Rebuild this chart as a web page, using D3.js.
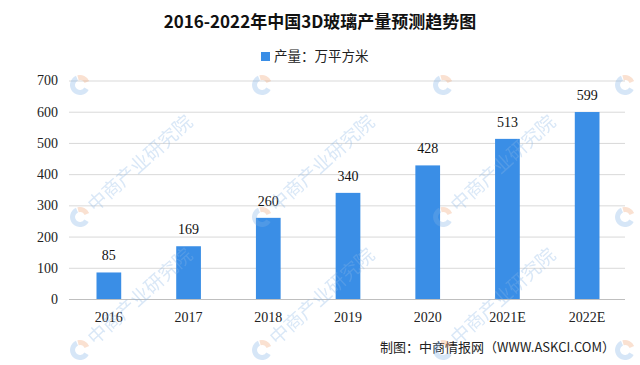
<!DOCTYPE html>
<html>
<head>
<meta charset="utf-8">
<script src="https://cdn.jsdelivr.net/npm/d3@7"></script>
<style>
  body { margin: 0; background: #fff; }
  svg { display: block; }
</style>
</head>
<body>
<script>
// chart data
const years = ['2016', '2017', '2018', '2019', '2020', '2021E', '2022E'];
const output = [85, 169, 260, 340, 428, 513, 599];
const yTicks = [0, 100, 200, 300, 400, 500, 600, 700];
const title = '2016-2022年中国3D玻璃产量预测趋势图';
const legendLabel = '产量：万平方米';
const sourceNote = '制图：中商情报网（WWW.ASKCI.COM）';
const watermark = '中商产业研究院';

const W = 640, H = 365;
const serif = '"Liberation Serif", "Noto Sans CJK SC", serif';
const cjk = '"Noto Sans CJK SC", sans-serif';

const svg = d3.select('body').append('svg')
  .attr('width', W)
  .attr('height', H);

svg.append('rect').attr('width', W).attr('height', H).attr('fill', '#fff');

// scales
const x = d3.scaleBand().domain(years).range([69, 627])
  .paddingInner(0.69).paddingOuter(0.345);
const y = d3.scaleLinear().domain([0, 700]).range([299, 80.5]);

// gridlines
svg.append('g')
  .selectAll('line')
  .data(yTicks)
  .join('line')
  .attr('x1', 69).attr('x2', 625)
  .attr('y1', d => y(d) + 0.5).attr('y2', d => y(d) + 0.5)
  .attr('stroke', d => d === 0 ? '#bfbfbf' : '#d9d9d9')
  .attr('stroke-width', 1);

// y axis labels
const yAxis = d3.axisLeft(y).tickValues(yTicks).tickSize(0).tickPadding(11);
svg.append('g')
  .attr('transform', 'translate(69,0)')
  .call(yAxis)
  .call(g => g.select('.domain').remove())
  .selectAll('text')
  .attr('font-family', serif)
  .attr('font-size', 14)
  .attr('fill', '#222');

// x axis labels
const xAxis = d3.axisBottom(x).tickSize(0).tickPadding(13);
svg.append('g')
  .attr('transform', 'translate(0,299)')
  .call(xAxis)
  .call(g => g.select('.domain').remove())
  .selectAll('text')
  .attr('font-family', serif)
  .attr('font-size', 14)
  .attr('fill', '#222');

// bars
svg.append('g')
  .selectAll('rect')
  .data(output)
  .join('rect')
  .attr('x', (d, i) => x(years[i]))
  .attr('y', d => y(d))
  .attr('width', x.bandwidth())
  .attr('height', d => y(0) - y(d))
  .attr('fill', '#3a8ee6');

// value labels
svg.append('g')
  .selectAll('text')
  .data(output)
  .join('text')
  .attr('x', (d, i) => x(years[i]) + x.bandwidth() / 2)
  .attr('y', d => y(d) - 12)
  .attr('text-anchor', 'middle')
  .attr('font-family', serif)
  .attr('font-size', 14)
  .attr('fill', '#111')
  .text(d => d);

// title
svg.append('text')
  .attr('x', 320).attr('y', 28)
  .attr('text-anchor', 'middle')
  .attr('font-family', cjk)
  .attr('font-weight', 'bold')
  .attr('font-size', 17)
  .attr('fill', '#111')
  .text(title);

// legend
svg.append('rect')
  .attr('x', 261).attr('y', 52)
  .attr('width', 9).attr('height', 9)
  .attr('fill', '#3a8ee6');
svg.append('text')
  .attr('x', 274).attr('y', 61)
  .attr('font-family', cjk)
  .attr('font-size', 13.5)
  .attr('fill', '#222')
  .text(legendLabel);

// source note
svg.append('text')
  .attr('x', 615).attr('y', 352)
  .attr('text-anchor', 'end')
  .attr('font-family', cjk)
  .attr('font-size', 13)
  .attr('fill', '#222')
  .text(sourceNote);

// watermarks: logo everywhere, text only where it fits inside the picture
const wmX = [-101, 80, 262, 443, 625];
const wmY = [85, 217, 350];
const wm = svg.append('g').attr('opacity', 0.32).attr('pointer-events', 'none');
wmY.forEach(wy => {
  wmX.forEach(wx => {
    const g = wm.append('g').attr('transform', `translate(${wx},${wy}) rotate(-42)`);
    g.append('path')
      .attr('d', d3.arc()({ innerRadius: 5, outerRadius: 10, startAngle: Math.PI * 0.9, endAngle: Math.PI * 2.1 }))
      .attr('fill', '#7fb0e6');
    g.append('path')
      .attr('d', d3.arc()({ innerRadius: 5, outerRadius: 10, startAngle: Math.PI * 0.15, endAngle: Math.PI * 0.6 }))
      .attr('fill', '#f0a070');
    const fits = wx > 0 && wx + 130 < W && wy - 120 > 0;
    if (fits) {
      g.append('text')
        .attr('x', 14).attr('y', 7)
        .attr('font-family', cjk)
        .attr('font-size', 19)
        .attr('fill', '#8ab6e6')
        .text(watermark);
    }
  });
});
</script>
</body>
</html>
